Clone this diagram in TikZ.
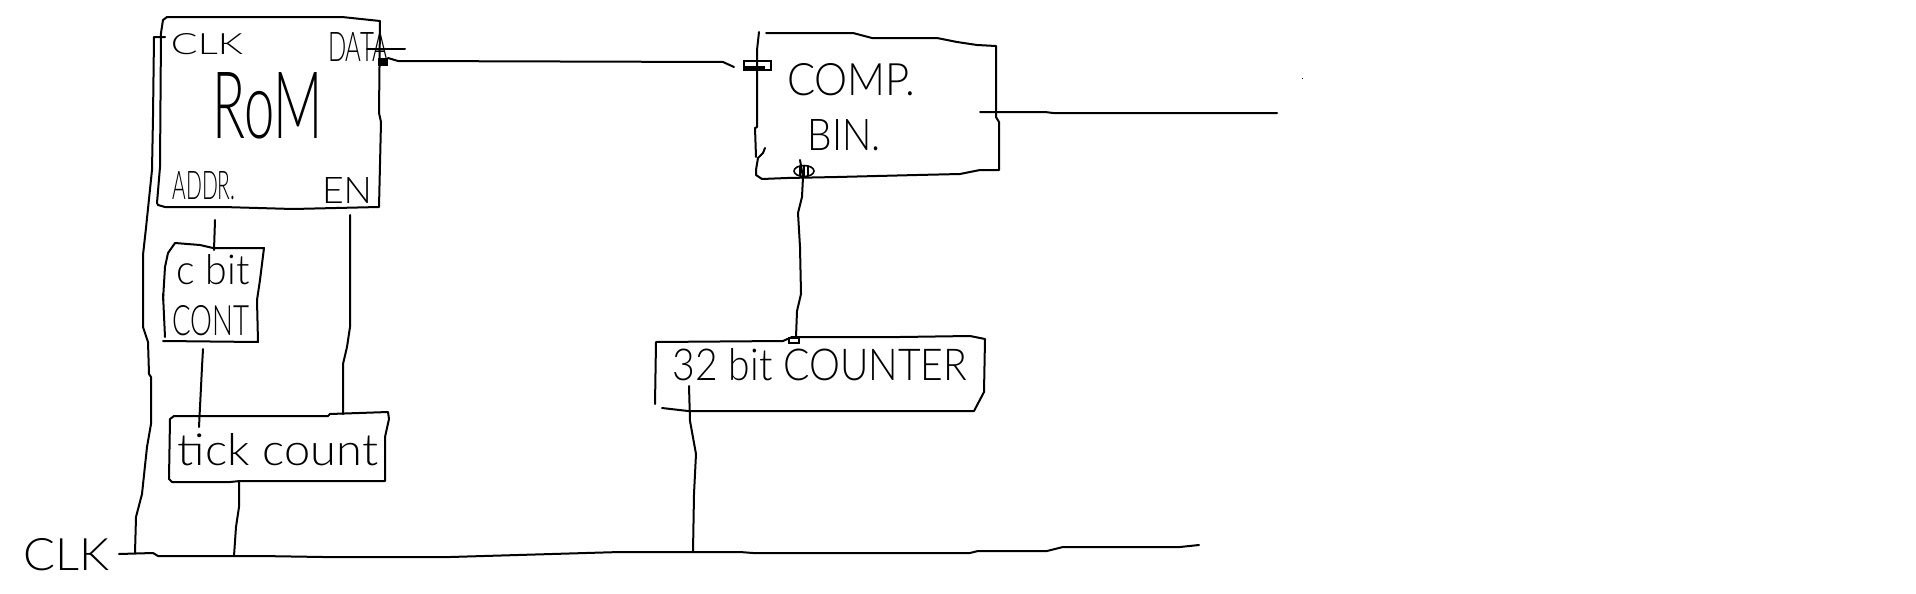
\documentclass[tikz,border=0pt]{standalone}
\usepackage{graphicx}
\usepackage{fontspec}
\setmainfont{Lato Light}
\newlength\px \setlength\px{0.5pt}
% handwritten label: name, centre x, centre y, width, height, text
\newcommand{\hw}[6]{\node[lbl] (#1) at (#2,#3) {\resizebox{#4\px}{#5\px}{#6}};}
\tikzset{
  lbl/.style={inner sep=0pt,outer sep=0pt,anchor=center},
  pen/.style={line width=1pt,line join=round,line cap=round,black},
  port/.style={line width=0.8pt,black},
}
\begin{document}
\begin{tikzpicture}[x=0.5pt,y=-0.5pt]
\useasboundingbox (0,0) rectangle (1916,594);
% connector end points
\coordinate (clkin) at (119,554);
\coordinate (busend) at (1199,545);
\coordinate (busA) at (135,553);
\coordinate (busB) at (234,556);
\coordinate (busC) at (693,552);
\coordinate (romclk) at (165,37);
\coordinate (romclkc) at (154,37);
\coordinate (romaddr) at (215,220);
\coordinate (cnttop) at (214,250);
\coordinate (cntbot) at (203,349);
\coordinate (ticktopA) at (199,427);
\coordinate (romen) at (350,215);
\coordinate (ticktopB) at (343,414);
\coordinate (tickbot) at (239,481);
\coordinate (romdata) at (388,58);
\coordinate (compa) at (734,67);
\coordinate (compb) at (800,160);
\coordinate (ctrtop) at (796,337);
\coordinate (ctrbot) at (689,386);
\coordinate (compout) at (980,112);
\coordinate (outend) at (1277,113);
% ROM
\draw[pen] (163,20) -- (167,17) -- (342,17) -- (380,21) -- (379,113) -- (381,122) -- (379,207) -- (293,209) -- (223,207) -- (165,207) -- (158,205) -- (157,203) -- (160,167) -- (161,33) -- cycle;
\hw{rom}{268}{106}{110}{66}{RoM}
\hw{lclk}{207}{44}{72}{21}{CLK}
\hw{ldata}{358}{47}{60}{29}{DATA}
\hw{laddr}{204}{186}{63}{28}{ADDR.}
\hw{len}{347}{190}{50}{26}{EN}
\draw[pen] (367,49) -- (405,49);
\fill (378,58) rectangle (388,66);
% 6-bit counter
\draw[pen] (163,300) -- (165,267) -- (168,253) -- (175,243) -- (200,245) -- (213,248) -- (264,248) -- (260,280) -- (257,300) -- (258,342) -- (163,341);
\draw[pen] (163,294) -- (165,337);
\hw{cbit}{213}{270}{73}{30}{c bit}
\hw{cont}{211}{321}{77}{30}{CONT}
% tick counter
\draw[pen] (170,419) -- (174,416) -- (328,416) -- (330,414) -- (388,412) -- (389,419) -- (385,437) -- (385,481) -- (290,481) -- (240,481) -- (230,482) -- (172,482) -- (169,479) -- cycle;
\hw{tick}{278}{450}{200}{32}{tick count}
% comparator
\draw[pen] (759,32) -- (757,50) -- (757,127) -- (755,128) -- (756,157);
\draw[pen] (765,148) -- (763,153) -- (758,158) -- (756,170) -- (756,175) -- (762,179) -- (787,178) -- (837,177) -- (917,175) -- (960,174) -- (980,170) -- (999,170) -- (999,122) -- (996,117) -- (996,46) -- (977,45) -- (957,42) -- (937,38) -- (872,38) -- (853,33) -- (766,33);
\hw{comp}{851}{80}{128}{32}{COMP.}
\hw{bin}{844}{135}{73}{31}{BIN.}
\draw[port] (744,61) rectangle (771,70);
\fill (744,66) rectangle (765,71);
\draw[port] (804,171) ellipse (10 and 5.5);
\draw[port] (800,166) -- (800,176) (804,166) -- (804,176) (808,166) -- (808,176);
% 32-bit counter
\draw[pen] (655,404) -- (656,342) -- (783,341) -- (792,337) -- (900,337) -- (970,336) -- (985,339) -- (984,392) -- (974,411) -- (820,411) -- (688,411) -- (662,408);
\hw{ctr}{820}{365}{294}{32}{32 bit COUNTER}
\draw[port] (789,338) rectangle (799,343);
% CLK label
\hw{clk}{67}{555}{86}{32}{CLK}
% connectors
\draw[pen] (clkin) -- (153,553) -- (158,556) -- (260,556) -- (323,557) -- (450,557) -- (620,552) -- (740,552) -- (753,553) -- (970,553) -- (978,551) -- (1047,551) -- (1063,547) -- (1180,547) -- (busend);
\draw[pen] (romclk) -- (romclkc) -- (153,117) -- (152,170) -- (146,228) -- (143,255) -- (143,327) -- (148,342) -- (149,374) -- (151,377) -- (151,424) -- (147,447) -- (142,494) -- (136,517) -- (busA);
\draw[pen] (romaddr) -- (cnttop);
\draw[pen] (cntbot) -- (202,367) -- (ticktopA);
\draw[pen] (romen) -- (350,327) -- (347,347) -- (343,364) -- (ticktopB);
\draw[pen] (tickbot) -- (239,507) -- (236,527) -- (busB);
\draw[pen] (romdata) -- (398,61) -- (723,62) -- (compa);
\draw[pen] (compb) -- (803,177) -- (802,197) -- (798,213) -- (800,247) -- (801,294) -- (797,311) -- (ctrtop);
\draw[pen] (ctrbot) -- (690,421) -- (696,454) -- (694,494) -- (busC);
\draw[pen] (compout) -- (1045,112) -- (1053,113) -- (outend);
\fill (1301.5,77.5) rectangle (1302.5,78.5);
\end{tikzpicture}
\end{document}
